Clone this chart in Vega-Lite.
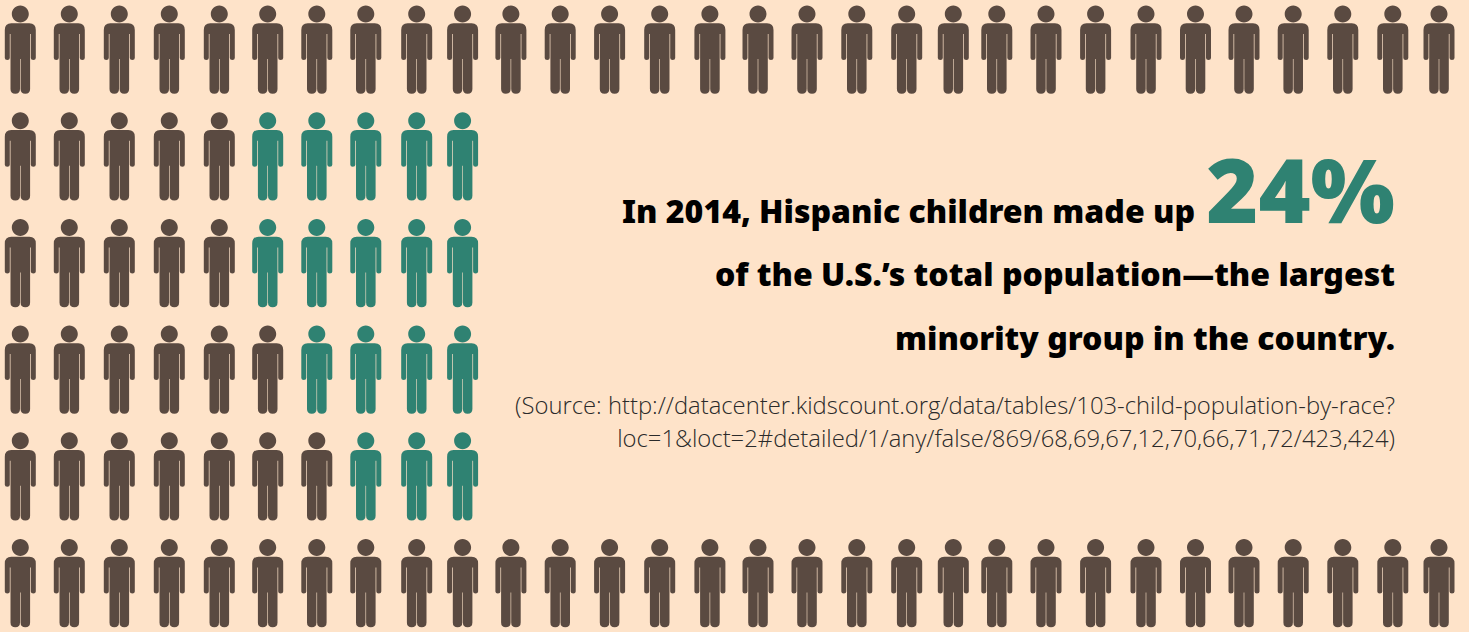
{
  "$schema": "https://vega.github.io/schema/vega-lite/v6.json",
  "width": 1469,
  "height": 632,
  "padding": 0,
  "autosize": {"type": "none"},
  "background": "#fee3c9",
  "view": {"stroke": null},
  "datasets": {
    "people": [
      {"col": 20.3, "row": 50, "group": "Other"}, {"col": 69.3, "row": 50, "group": "Other"}, {"col": 119.3, "row": 50, "group": "Other"}, {"col": 169.3, "row": 50, "group": "Other"}, {"col": 219.3, "row": 50, "group": "Other"}, {"col": 267.7, "row": 50, "group": "Other"}, {"col": 316.8, "row": 50, "group": "Other"}, {"col": 365.8, "row": 50, "group": "Other"}, {"col": 416.7, "row": 50, "group": "Other"}, {"col": 462.6, "row": 50, "group": "Other"},
      {"col": 510.9, "row": 50, "group": "Other"}, {"col": 560.2, "row": 50, "group": "Other"}, {"col": 609.6, "row": 50, "group": "Other"}, {"col": 659.7, "row": 50, "group": "Other"}, {"col": 709.9, "row": 50, "group": "Other"}, {"col": 758, "row": 50, "group": "Other"}, {"col": 807, "row": 50, "group": "Other"}, {"col": 856.8, "row": 50, "group": "Other"}, {"col": 906.7, "row": 50, "group": "Other"}, {"col": 953.3, "row": 50, "group": "Other"},
      {"col": 996.8, "row": 50, "group": "Other"}, {"col": 1046, "row": 50, "group": "Other"}, {"col": 1095.6, "row": 50, "group": "Other"}, {"col": 1146, "row": 50, "group": "Other"}, {"col": 1195.5, "row": 50, "group": "Other"}, {"col": 1244, "row": 50, "group": "Other"}, {"col": 1293.2, "row": 50, "group": "Other"}, {"col": 1342.8, "row": 50, "group": "Other"}, {"col": 1392.8, "row": 50, "group": "Other"}, {"col": 1439, "row": 50, "group": "Other"},

      {"col": 20.3, "row": 156.7, "group": "Other"}, {"col": 69.3, "row": 156.7, "group": "Other"}, {"col": 119.3, "row": 156.7, "group": "Other"}, {"col": 169.3, "row": 156.7, "group": "Other"}, {"col": 219.3, "row": 156.7, "group": "Other"}, {"col": 267.7, "row": 156.7, "group": "Hispanic"}, {"col": 316.8, "row": 156.7, "group": "Hispanic"}, {"col": 365.8, "row": 156.7, "group": "Hispanic"}, {"col": 416.7, "row": 156.7, "group": "Hispanic"}, {"col": 462.6, "row": 156.7, "group": "Hispanic"},

      {"col": 20.3, "row": 263.4, "group": "Other"}, {"col": 69.3, "row": 263.4, "group": "Other"}, {"col": 119.3, "row": 263.4, "group": "Other"}, {"col": 169.3, "row": 263.4, "group": "Other"}, {"col": 219.3, "row": 263.4, "group": "Other"}, {"col": 267.7, "row": 263.4, "group": "Hispanic"}, {"col": 316.8, "row": 263.4, "group": "Hispanic"}, {"col": 365.8, "row": 263.4, "group": "Hispanic"}, {"col": 416.7, "row": 263.4, "group": "Hispanic"}, {"col": 462.6, "row": 263.4, "group": "Hispanic"},

      {"col": 20.3, "row": 370, "group": "Other"}, {"col": 69.3, "row": 370, "group": "Other"}, {"col": 119.3, "row": 370, "group": "Other"}, {"col": 169.3, "row": 370, "group": "Other"}, {"col": 219.3, "row": 370, "group": "Other"}, {"col": 267.7, "row": 370, "group": "Other"}, {"col": 316.8, "row": 370, "group": "Hispanic"}, {"col": 365.8, "row": 370, "group": "Hispanic"}, {"col": 416.7, "row": 370, "group": "Hispanic"}, {"col": 462.6, "row": 370, "group": "Hispanic"},

      {"col": 20.3, "row": 476.7, "group": "Other"}, {"col": 69.3, "row": 476.7, "group": "Other"}, {"col": 119.3, "row": 476.7, "group": "Other"}, {"col": 169.3, "row": 476.7, "group": "Other"}, {"col": 219.3, "row": 476.7, "group": "Other"}, {"col": 267.7, "row": 476.7, "group": "Other"}, {"col": 316.8, "row": 476.7, "group": "Other"}, {"col": 365.8, "row": 476.7, "group": "Hispanic"}, {"col": 416.7, "row": 476.7, "group": "Hispanic"}, {"col": 462.6, "row": 476.7, "group": "Hispanic"},

      {"col": 20.3, "row": 583.4, "group": "Other"}, {"col": 69.3, "row": 583.4, "group": "Other"}, {"col": 119.3, "row": 583.4, "group": "Other"}, {"col": 169.3, "row": 583.4, "group": "Other"}, {"col": 219.3, "row": 583.4, "group": "Other"}, {"col": 267.7, "row": 583.4, "group": "Other"}, {"col": 316.8, "row": 583.4, "group": "Other"}, {"col": 365.8, "row": 583.4, "group": "Other"}, {"col": 416.7, "row": 583.4, "group": "Other"}, {"col": 462.6, "row": 583.4, "group": "Other"},
      {"col": 510.9, "row": 583.4, "group": "Other"}, {"col": 560.2, "row": 583.4, "group": "Other"}, {"col": 609.6, "row": 583.4, "group": "Other"}, {"col": 659.7, "row": 583.4, "group": "Other"}, {"col": 709.9, "row": 583.4, "group": "Other"}, {"col": 758, "row": 583.4, "group": "Other"}, {"col": 807, "row": 583.4, "group": "Other"}, {"col": 856.8, "row": 583.4, "group": "Other"}, {"col": 906.7, "row": 583.4, "group": "Other"}, {"col": 953.3, "row": 583.4, "group": "Other"},
      {"col": 996.8, "row": 583.4, "group": "Other"}, {"col": 1046, "row": 583.4, "group": "Other"}, {"col": 1095.6, "row": 583.4, "group": "Other"}, {"col": 1146, "row": 583.4, "group": "Other"}, {"col": 1195.5, "row": 583.4, "group": "Other"}, {"col": 1244, "row": 583.4, "group": "Other"}, {"col": 1293.2, "row": 583.4, "group": "Other"}, {"col": 1342.8, "row": 583.4, "group": "Other"}, {"col": 1392.8, "row": 583.4, "group": "Other"}, {"col": 1439, "row": 583.4, "group": "Other"}
    ],
    "headline": [
      {"x": 1195, "y": 222.5, "text": "In 2014, Hispanic children made up"},
      {"x": 1395, "y": 286, "text": "of the U.S.’s total population—the largest"},
      {"x": 1395, "y": 349.5, "text": "minority group in the country."}
    ],
    "figure": [
      {"x": 1395, "y": 222.5, "text": "24%"}
    ],
    "source": [
      {"x": 1395, "y": 414, "text": "(Source: http://datacenter.kidscount.org/data/tables/103-child-population-by-race?"},
      {"x": 1395, "y": 446.7, "text": "loc=1&loct=2#detailed/1/any/false/869/68,69,67,12,70,66,71,72/423,424)"}
    ]
  },
  "encoding": {
    "x": {"type": "quantitative", "scale": {"domain": [0, 1469]}, "axis": null},
    "y": {"type": "quantitative", "scale": {"domain": [0, 632], "reverse": true}, "axis": null}
  },
  "layer": [
    {
      "data": {"name": "people"},
      "mark": {"type": "point", "filled": true, "opacity": 1, "strokeWidth": 0, "size": 4,
        "shape": "M8.5,-36A8.5,8.5,0,1,1,-8.5,-36A8.5,8.5,0,1,1,8.5,-36ZM-9,-26.7H9Q15.5,-26.7,15.5,-20V8Q15.5,10,13,10Q10.5,10,10.5,8V-16H9.8V39Q9.8,43.8,5,43.8Q0.3,43.8,0.3,39V9H-0.3V39Q-0.3,43.8,-5,43.8Q-9.8,43.8,-9.8,39V-16H-10.5V8Q-10.5,10,-13,10Q-15.5,10,-15.5,8V-20Q-15.5,-26.7,-9,-26.7Z"},
      "encoding": {
        "x": {"field": "col"},
        "y": {"field": "row"},
        "color": {"field": "group", "type": "nominal", "scale": {"domain": ["Other", "Hispanic"], "range": ["#5a4a41", "#2f8272"]}, "legend": null}
      }
    },
    {
      "data": {"name": "headline"},
      "mark": {"type": "text", "align": "right", "baseline": "alphabetic", "font": "Noto Sans", "fontWeight": 900, "fontSize": 32, "color": "#000000"},
      "encoding": {"x": {"field": "x"}, "y": {"field": "y"}, "text": {"field": "text"}}
    },
    {
      "data": {"name": "figure"},
      "mark": {"type": "text", "align": "right", "baseline": "alphabetic", "font": "Noto Sans", "fontWeight": 900, "fontSize": 89, "color": "#2f8272"},
      "encoding": {"x": {"field": "x"}, "y": {"field": "y"}, "text": {"field": "text"}}
    },
    {
      "data": {"name": "source"},
      "mark": {"type": "text", "align": "right", "baseline": "alphabetic", "font": "Open Sans", "fontWeight": 300, "fontSize": 23.8, "color": "#2a2a2a"},
      "encoding": {"x": {"field": "x"}, "y": {"field": "y"}, "text": {"field": "text"}}
    }
  ]
}
